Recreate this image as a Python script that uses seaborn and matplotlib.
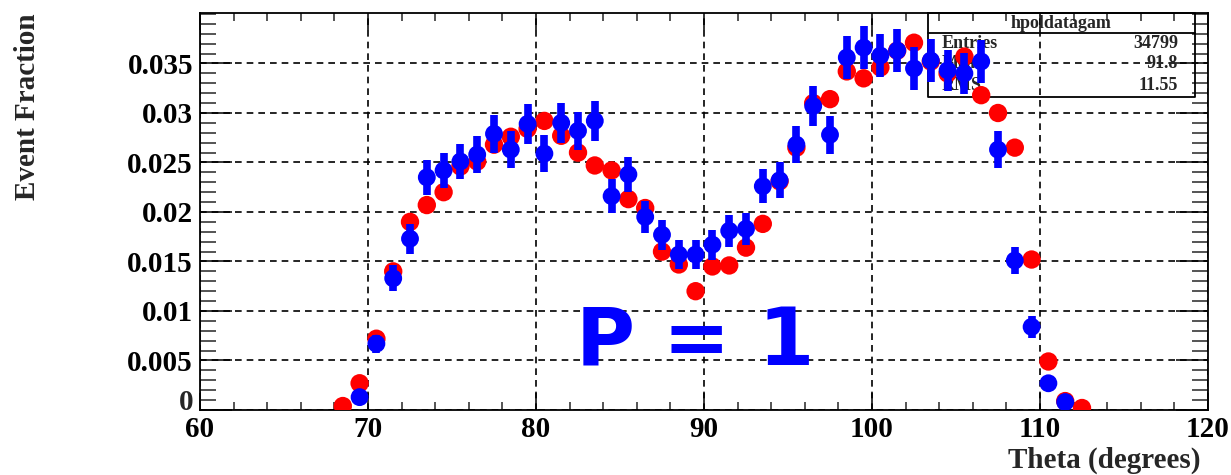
import numpy as np
import pandas as pd
import matplotlib
matplotlib.use("Agg")
import matplotlib.pyplot as plt
from matplotlib.ticker import MultipleLocator
import seaborn as sns

# ---- data ----
red_theta = [68.5, 69.5, 70.5, 71.5, 72.5, 73.5, 74.5, 75.5, 76.5, 77.5, 78.5, 79.5,
             80.5, 81.5, 82.5, 83.5, 84.5, 85.5, 86.5, 87.5, 88.5, 89.5, 90.5, 91.5,
             92.5, 93.5, 94.5, 95.5, 96.5, 97.5, 98.5, 99.5, 100.5, 101.5, 102.5, 103.5,
             104.5, 105.5, 106.5, 107.5, 108.5, 109.5, 110.5, 111.5, 112.5]
red_frac = [0.0004, 0.0027, 0.0072, 0.0140, 0.0190, 0.0207, 0.0220, 0.0246, 0.0251, 0.0268,
            0.0276, 0.0284, 0.0292, 0.0277, 0.0260, 0.0247, 0.0242, 0.0213, 0.0204, 0.0160,
            0.0147, 0.0120, 0.0145, 0.0146, 0.0164, 0.0188, 0.0231, 0.0265, 0.0310, 0.0314,
            0.0342, 0.0335, 0.0346, 0.0363, 0.0371, 0.0352, 0.0340, 0.0357, 0.0318, 0.0300,
            0.0265, 0.0152, 0.0049, 0.0009, 0.0002]

blue_theta = [69.5, 70.5, 71.5, 72.5, 73.5, 74.5, 75.5, 76.5, 77.5, 78.5, 79.5, 80.5,
              81.5, 82.5, 83.5, 84.5, 85.5, 86.5, 87.5, 88.5, 89.5, 90.5, 91.5, 92.5,
              93.5, 94.5, 95.5, 96.5, 97.5, 98.5, 99.5, 100.5, 101.5, 102.5, 103.5, 104.5,
              105.5, 106.5, 107.5, 108.5, 109.5, 110.5, 111.5]
blue_frac = [0.0013, 0.0067, 0.0133, 0.0173, 0.0235, 0.0242, 0.0251, 0.0258, 0.0279, 0.0263,
             0.0289, 0.0259, 0.0290, 0.0282, 0.0292, 0.0216, 0.0238, 0.0195, 0.0177, 0.0157,
             0.0157, 0.0167, 0.0181, 0.0183, 0.0226, 0.0232, 0.0268, 0.0307, 0.0278, 0.0356,
             0.0366, 0.0358, 0.0363, 0.0345, 0.0353, 0.0343, 0.0340, 0.0352, 0.0263, 0.0151,
             0.0084, 0.0027, 0.0008]
blue_err = [0.0004, 0.0009, 0.0013, 0.0015, 0.0018, 0.0018, 0.0018, 0.0019, 0.0019, 0.0019,
            0.0020, 0.0019, 0.0020, 0.0019, 0.0020, 0.0017, 0.0018, 0.0016, 0.0015, 0.0015,
            0.0015, 0.0015, 0.0016, 0.0016, 0.0017, 0.0018, 0.0019, 0.0020, 0.0019, 0.0022,
            0.0022, 0.0022, 0.0022, 0.0022, 0.0022, 0.0021, 0.0021, 0.0022, 0.0019, 0.0014,
            0.0011, 0.0006, 0.0003]

x_ticks = [60, 70, 80, 90, 100, 110, 120]
y_ticks = [0, 0.005, 0.01, 0.015, 0.02, 0.025, 0.03, 0.035]
y_tick_labels = ["0", "0.005", "0.01", "0.015", "0.02", "0.025", "0.03", "0.035"]

stats_title = "hpoldatagam"
stats_names = ["Entries", "Mean", "RMS"]
stats_values = ["34799", "91.8", "11.55"]

red_df = pd.DataFrame({"theta": red_theta, "frac": red_frac})
blue_df = pd.DataFrame({"theta": blue_theta, "frac": blue_frac, "err": blue_err})

# ---- style ----
sns.set_style("white")
plt.rcParams["font.family"] = ["Liberation Serif", "DejaVu Serif"]

W, H = 1231, 475
fig = plt.figure(figsize=(W / 100, H / 100), dpi=100)
ax = fig.add_axes([200 / W, 1 - 410 / H, 1008 / W, 397 / H])

RED = "#ff0000"
BLUE = "#0000ff"

sns.scatterplot(data=red_df, x="theta", y="frac", ax=ax, color=RED, s=175,
                edgecolor="none", zorder=3, legend=False)
ax.errorbar(blue_df["theta"], blue_df["frac"], yerr=blue_df["err"], fmt="none",
            ecolor=BLUE, elinewidth=5.5, capsize=0, zorder=4)
sns.scatterplot(data=blue_df, x="theta", y="frac", ax=ax, color=BLUE, s=165,
                edgecolor="none", zorder=5, legend=False)

ax.set_xlim(60, 120)
ax.set_ylim(0, 0.0401)
ax.set_xticks(x_ticks)
ax.set_yticks(y_ticks)
# the "0" label is drawn separately (raised a little, ROOT style)
ax.set_yticklabels([""] + y_tick_labels[1:])
ax.xaxis.set_minor_locator(MultipleLocator(2))
ax.yaxis.set_minor_locator(MultipleLocator(0.001))
ax.set_xlabel("")
ax.set_ylabel("")

ax.grid(True, which="major", color="black", linestyle=(0, (4, 3)), linewidth=1.2, zorder=1)
ax.set_axisbelow(True)

for sp in ax.spines.values():
    sp.set_color("black")
    sp.set_linewidth(1.3)
    sp.set_visible(True)

ax.tick_params(axis="x", which="major", direction="in", length=12, width=1.1,
               top=True, bottom=True, labelsize=21, pad=4, colors="black")
ax.tick_params(axis="x", which="minor", direction="in", length=6, width=1.1,
               top=True, bottom=True)
ax.tick_params(axis="y", which="major", direction="in", length=23, width=1.1,
               left=True, right=True, labelsize=21, pad=5, colors="black")
ax.tick_params(axis="y", which="minor", direction="in", length=11.5, width=1.1,
               left=True, right=True)
for lab in ax.get_xticklabels() + ax.get_yticklabels():
    lab.set_fontweight("bold")

fig.text(193 / W, 1 - 403 / H, y_tick_labels[0], ha="right", va="center",
         fontsize=21, fontweight="bold")

# axis titles (ROOT style: at the ends)
fig.text(28 / W, 1 - 13 / H, "Event Fraction", rotation=90, ha="center", va="top",
         fontsize=21, fontweight="bold")
fig.text(1200 / W, 1 - 460 / H, "Theta (degrees)", ha="right", va="center",
         fontsize=21, fontweight="bold")

# stats box
bx0, bx1 = (928 - 200) / 1008, (1195 - 200) / 1008
by_top, by_sep, by_bot = 1.0, (410 - 33) / 397, (410 - 97) / 397
ax.plot([bx0, bx1, bx1, bx0, bx0], [by_top, by_top, by_bot, by_bot, by_top],
        transform=ax.transAxes, color="black", lw=1.3, zorder=2, clip_on=False)
ax.plot([bx0, bx1], [by_sep, by_sep], transform=ax.transAxes, color="black", lw=1.3, zorder=2)
ax.text((bx0 + bx1) / 2, (410 - 24) / 397, stats_title, transform=ax.transAxes,
        ha="center", va="center", fontsize=13, fontweight="bold", zorder=2)
row_y = [(410 - 44) / 397, (410 - 64) / 397, (410 - 86) / 397]
for name, val, yy in zip(stats_names, stats_values, row_y):
    ax.text((942 - 200) / 1008, yy, name, transform=ax.transAxes, ha="left", va="center",
            fontsize=13, fontweight="bold", zorder=2)
    ax.text((1178 - 200) / 1008, yy, val, transform=ax.transAxes, ha="right", va="center",
            fontsize=13, fontweight="bold", zorder=2)

# big annotation
ax.text(89.45, 0.00445, "P = 1", ha="center", va="baseline", color=BLUE,
        fontsize=58, fontweight="bold", family=["DejaVu Sans"], zorder=6)

fig.savefig("out.png", dpi=100)
